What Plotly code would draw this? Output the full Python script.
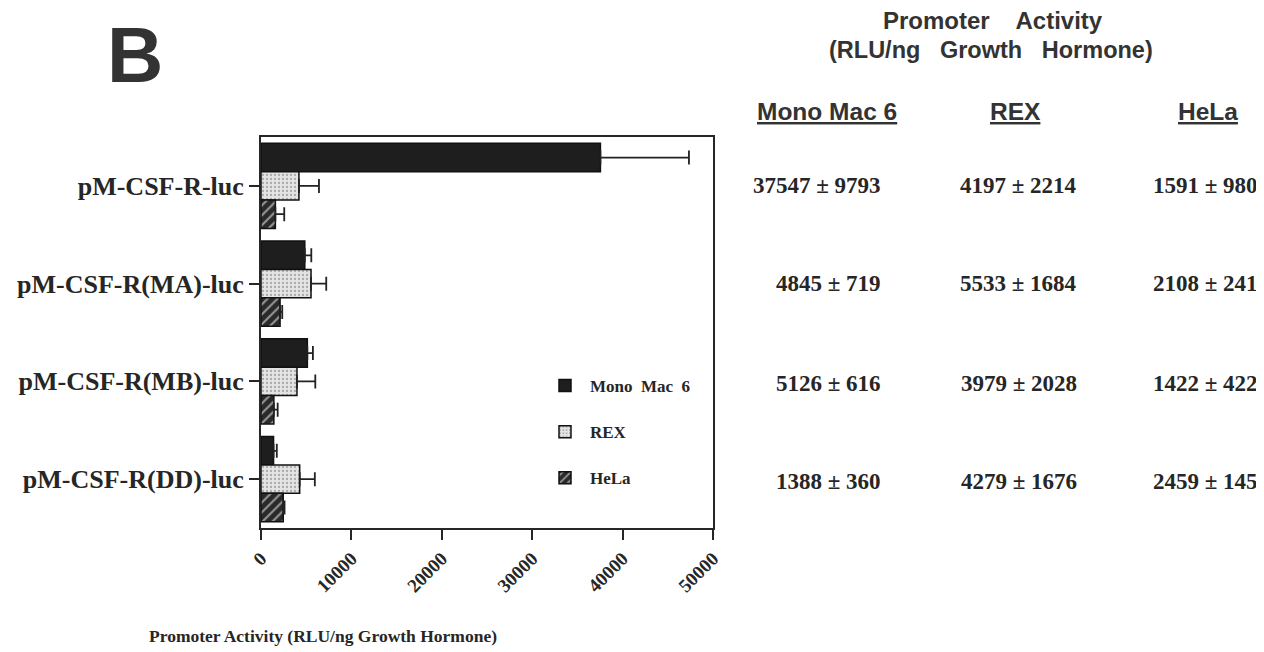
import plotly.graph_objects as go

constructs = ["pM-CSF-R-luc", "pM-CSF-R(MA)-luc", "pM-CSF-R(MB)-luc", "pM-CSF-R(DD)-luc"]
cell_lines = ["Mono Mac 6", "REX", "HeLa"]
mono_mac6 = [37547, 4845, 5126, 1388]
mono_mac6_sd = [9793, 719, 616, 360]
rex = [4197, 5533, 3979, 4279]
rex_sd = [2214, 1684, 2028, 1676]
hela = [1591, 2108, 1422, 2459]
hela_sd = [980, 241, 422, 145]
x_ticks = [0, 10000, 20000, 30000, 40000, 50000]

values = [mono_mac6, rex, hela]
errors = [mono_mac6_sd, rex_sd, hela_sd]

INK = "#262626"
SERIF = "Liberation Serif, Times New Roman, serif"
SANS = "Liberation Sans, Arial, sans-serif"

styles = [
    dict(color="#1e1e1e", pattern=dict(shape="")),
    dict(color="#d8d8d8", pattern=dict(shape=".", fgcolor="#707070", bgcolor="#e4e4e4", size=4, solidity=0.25)),
    dict(color="#2a2a2a", pattern=dict(shape="/", fgcolor="#ffffff", bgcolor="#2a2a2a", size=7, solidity=0.3)),
]

fig = go.Figure()
for i, name in enumerate(cell_lines):
    fig.add_trace(go.Bar(
        y=constructs, x=values[i], orientation="h", name=name.replace(" ", "  "),
        legendgroup=name,
        marker=dict(color=styles[i]["color"], pattern=styles[i]["pattern"],
                    line=dict(color="#111111", width=1.5)),
        error_x=dict(type="data", array=errors[i], arrayminus=[0] * len(errors[i]),
                     symmetric=False, color="#222222", thickness=1.8, width=7),
    ))

OFF = 8  # page body margin
W, H = 1264 - OFF, 652 - OFF
L, R, T, B = 261 - OFF, 713 - OFF, 137 - OFF, 528 - OFF

def px(x):
    return (x - OFF - L) / (R - L)

def py(y):
    return (B - (y - OFF)) / (B - T)

fig.update_layout(
    width=W, height=H,
    margin=dict(l=L, r=W - R, t=T, b=H - B, autoexpand=False),
    paper_bgcolor="white", plot_bgcolor="white",
    barmode="group", bargap=0.13, bargroupgap=0,
    font=dict(family=SERIF, color=INK),
    legend=dict(x=px(540), y=py(368), xanchor="left", yanchor="top",
                traceorder="grouped", tracegroupgap=21, bgcolor="rgba(0,0,0,0)",
                font=dict(family=SERIF, size=17, color=INK, weight="bold"),
                itemwidth=40),
    showlegend=True,
)
fig.update_xaxes(
    range=[0, 50000], tickvals=x_ticks, ticktext=[str(v) for v in x_ticks],
    tickangle=-45, ticks="outside", ticklen=10, tickwidth=2, tickcolor=INK,
    showline=True, linecolor=INK, linewidth=2, mirror=True, showgrid=False, zeroline=False,
    tickfont=dict(family=SERIF, size=19, color=INK, weight="bold"), automargin=False,
)
fig.update_yaxes(
    categoryorder="array", categoryarray=constructs, range=[3.5, -0.5],
    ticks="outside", ticklen=10, tickwidth=2, tickcolor=INK,
    showline=True, linecolor=INK, linewidth=2, mirror=True, showgrid=False, zeroline=False,
    tickfont=dict(family=SERIF, size=26, color=INK, weight="bold"), automargin=False,
)

def note(text, x, y, family, size, xanchor="center", color=INK):
    return dict(text=text, x=px(x), y=py(y), xref="paper", yref="paper",
                xanchor=xanchor, yanchor="middle", showarrow=False,
                font=dict(family=family, size=size, color=color))

ann = []
ann.append(note("<b>B</b>", 135, 55, SANS, 78, color="#333333"))
ann.append(note("<b>Promoter Activity (RLU/ng Growth Hormone)</b>", 323, 636, SERIF, 17.5))
ann.append(note("<b>Promoter    Activity</b>", 993, 20, SANS, 24, color="#333333"))
ann.append(note("<b>(RLU/ng   Growth   Hormone)</b>", 991, 50, SANS, 23.5, color="#333333"))
header_x = [827, 1015, 1208]
for name, hx in zip(cell_lines, header_x):
    ann.append(note(f"<b><u>{name}</u></b>", hx, 112, SANS, 24.5, color="#333333"))
col_right = [883, 1079, 1260]
row_y = [185, 283, 383, 481]
for c in range(3):
    for r in range(len(constructs)):
        ann.append(note(f"<b>{values[c][r]} ± {errors[c][r]}</b>", col_right[c], row_y[r],
                        SERIF, 23, xanchor="right"))
fig.update_layout(annotations=ann)

fig.write_html("out.html")
